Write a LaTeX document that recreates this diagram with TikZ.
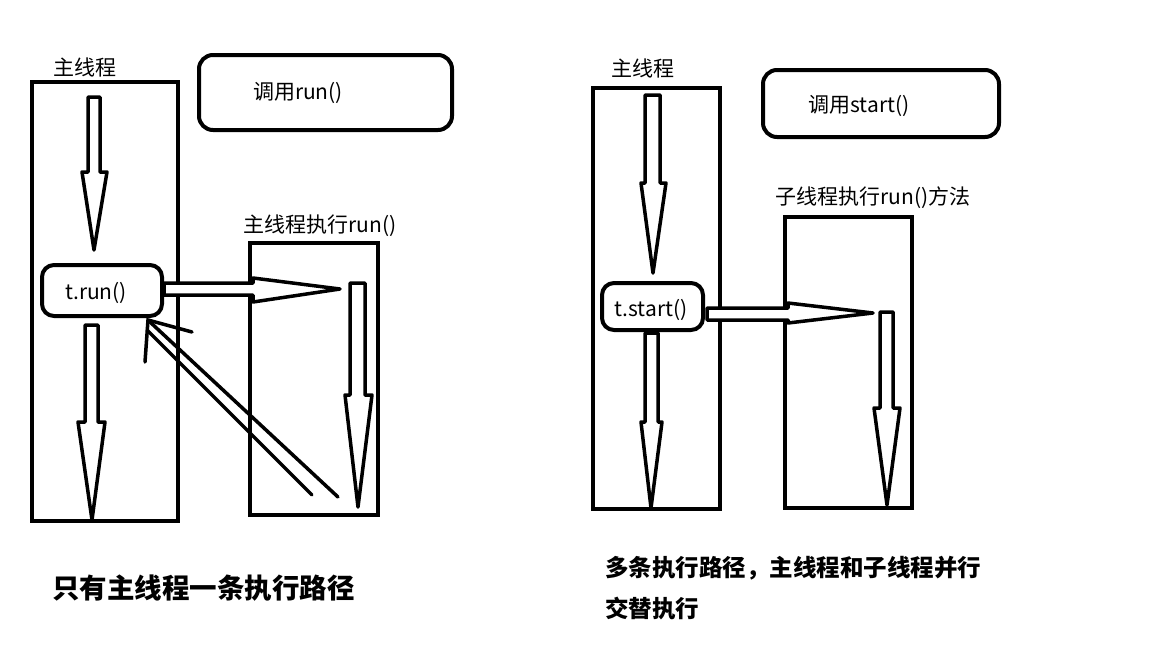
\documentclass[tikz,border=0pt]{standalone}
\usepackage{fontspec}
\setmainfont{Noto Sans CJK SC}
\newcommand\hollowdown[9]{% name, shaft x1, x2, top, head y, head left, head right, tip x, tip y
  \draw[hollow] (#2,#4) -- (#3,#4) -- (#3,#5) -- (#7,#5) -- (#8,#9) coordinate (#1) -- (#6,#5) -- (#2,#5) -- cycle;}
\newcommand\hollowright[8]{% name, start x, shaft y1, y2, head x, head top, head bottom, tip x/y
  \draw[hollow] (#2,#3) -- (#5,#3) -- (#5,#6) -- #8 coordinate (#1) -- (#5,#7) -- (#5,#4) -- (#2,#4) -- cycle;}
\begin{document}
\begin{tikzpicture}[x=1pt,y=-1pt,
  box/.style={draw,line width=4.5pt,inner sep=0pt},
  rbox/.style={draw,line width=4pt,rounded corners=14pt,inner sep=0pt},
  hollow/.style={draw,line width=3.5pt,line join=round,fill=white},
  thin/.style={draw,line width=3.5pt,line cap=round},
  lbl/.style={font=\fontsize{21}{24}\selectfont,inner sep=0pt},
  big/.style={font=\bfseries\fontsize{27.5}{30}\selectfont,inner sep=0pt,anchor=west},
  mid/.style={font=\bfseries\fontsize{23.5}{40}\selectfont,inner sep=0pt,anchor=west,align=left}]
\useasboundingbox (0,0) rectangle (1161,662);
% ---------- left diagram ----------
\node[box,minimum width=146pt,minimum height=439pt] (mainA) at (105,301.5) {};
\node[box,minimum width=128pt,minimum height=272pt] (childA) at (314,379) {};
\node[rbox,minimum width=253pt,minimum height=75pt] (callA) at (325.5,92.5) {};
\node[lbl] (callAtxt) at (298,93) {调用run()};
\node[lbl] (lblMainA) at (85,67) {主线程};
\node[lbl] (lblChildA) at (320,226) {主线程执行run()};
\node[rbox,rounded corners=12pt,fill=white,minimum width=120pt,minimum height=51pt] (trun) at (102,290.5) {};
\node[lbl] (truntxt) at (96,293) {t.run()};
\hollowdown{a1}{88}{100}{97}{172}{82}{107}{94}{250}
\hollowdown{a2}{85}{98}{325}{422}{78}{105}{92}{520}
\hollowright{a3}{164}{283}{295}{253}{278}{302}{(340,289)}
\hollowdown{a4}{350}{365}{283}{395}{345}{372}{358}{507}
\coordinate (retTip) at (148,320);
\coordinate (retA) at (312,495);
\coordinate (retB) at (338,497);
\draw[thin] (retA) -- (147,330);
\draw[thin] (retB) -- (150,322);
\draw[thin] (192,332) -- (retTip) -- (145,362);
\node[big] (capA) at (52,588) {只有主线程一条执行路径};
% ---------- right diagram ----------
\node[box,minimum width=127pt,minimum height=421pt] (mainB) at (656.5,298.5) {};
\node[box,minimum width=127pt,minimum height=291pt] (childB) at (848.5,362.5) {};
\node[rbox,minimum width=236pt,minimum height=67pt] (callB) at (881,103.5) {};
\node[lbl] (callBtxt) at (859,106) {调用start()};
\node[lbl] (lblMainB) at (643,68) {主线程};
\node[lbl] (lblChildB) at (873,198) {子线程执行run()方法};
\node[rbox,rounded corners=12pt,fill=white,minimum width=101pt,minimum height=47pt] (tstart) at (652.5,306.5) {};
\node[lbl] (tstarttxt) at (651,310) {t.start()};
\hollowdown{b1}{645}{660}{95}{183}{641}{666}{653}{273}
\hollowdown{b2}{645}{658}{333}{422}{641}{662}{651}{508}
\hollowright{b3}{707}{308}{320}{788}{303}{323}{(873,313)}
\hollowdown{b4}{880}{893}{312}{408}{874}{900}{887}{505}
\node[mid] (capB) at (605,568) {多条执行路径，主线程和子线程并行};
\node[mid] (capB2) at (605,608) {交替执行};
\end{tikzpicture}
\end{document}
